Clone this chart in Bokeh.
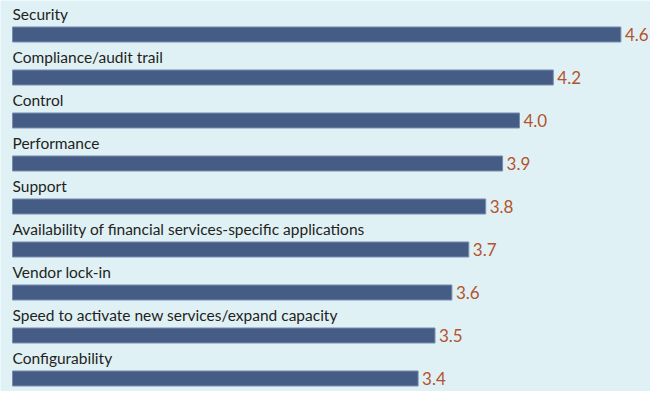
from bokeh.plotting import figure
from bokeh.models import ColumnDataSource, Range1d
from bokeh.core.properties import value
from bokeh.embed import file_html
from bokeh.resources import INLINE

categories = [
    "Security",
    "Compliance/audit trail",
    "Control",
    "Performance",
    "Support",
    "Availability of financial services-specific applications",
    "Vendor lock-in",
    "Speed to activate new services/expand capacity",
    "Configurability",
]
scores = [4.6, 4.2, 4.0, 3.9, 3.8, 3.7, 3.6, 3.5, 3.4]
score_labels = ["4.6", "4.2", "4.0", "3.9", "3.8", "3.7", "3.6", "3.5", "3.4"]
scale_min = 1.0

idx = list(range(len(categories)))
source = ColumnDataSource(dict(
    cat=categories,
    val=scores,
    lab=score_labels,
    y=idx,
    ylab=[i - 0.337 for i in idx],
    base=[scale_min] * len(idx),
))

BG = "#e0f1f6"
p = figure(width=650, height=391, output_backend="svg", toolbar_location=None,
           x_range=Range1d(0.92899, 4.77515), y_range=Range1d(8.3023, -0.7907),
           min_border=0, min_border_left=0, min_border_right=0,
           min_border_top=0, min_border_bottom=0)
p.axis.visible = False
p.grid.visible = False
p.outline_line_color = None
p.background_fill_color = BG
p.border_fill_color = BG

p.hbar(y="y", left="base", right="val", height=0.349, source=source,
       fill_color="#455c84", line_color="#7a8db0", line_width=1)

p.text(x="base", y="ylab", text="cat", source=source, y_offset=-6,
       text_font=value("Lato"), text_font_size="15.5px", text_color="#231f20",
       text_baseline="alphabetic", text_align="left")

p.text(x="val", y="y", text="lab", source=source, x_offset=4, y_offset=0,
       text_font=value("Lato"), text_font_size="17px", text_color="#b4532c",
       text_baseline="middle", text_align="left")

open("out.html", "w").write(file_html(p, INLINE))
